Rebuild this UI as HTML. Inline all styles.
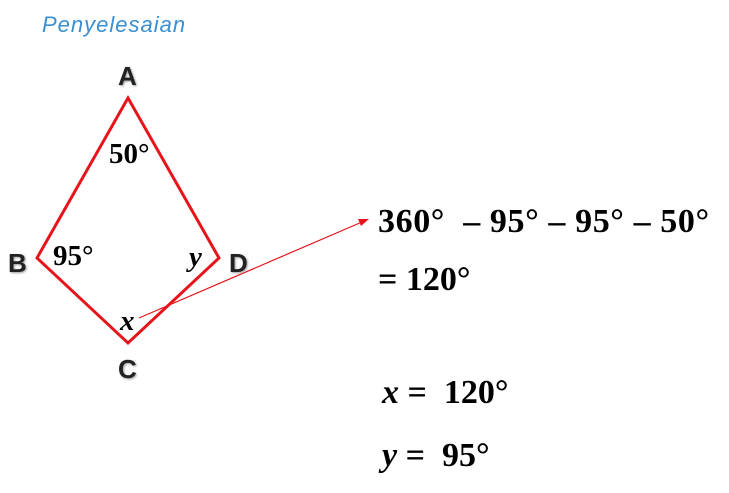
<!DOCTYPE html>
<html><head><style>
body{margin:0;width:729px;height:493px;background:#fff;overflow:hidden;position:relative;font-family:"Liberation Serif",serif}
.t{position:absolute;font-weight:bold;font-size:34px;white-space:nowrap;line-height:1}
.L{position:absolute;font-family:"Liberation Sans",sans-serif;font-weight:bold;font-size:26px;color:#222;text-shadow:1px 1px 2px #999;line-height:1}
</style></head><body>
<div style="position:absolute;left:42px;top:12px;font-family:'Comic Sans MS','Liberation Sans',cursive;font-style:italic;font-size:22px;color:#3a8fd0;letter-spacing:1px">Penyelesaian</div>
<svg width="729" height="493" style="position:absolute;left:0;top:0">
<polygon points="128,98 37,258 128,343 219,258" fill="none" stroke="#e8141c" stroke-width="3"/>
<line x1="139" y1="318" x2="362" y2="222" stroke="#e8141c" stroke-width="1.2"/>
<polygon points="369,219 358,219 361,226" fill="#e8141c"/>
</svg>
<div class="L" style="left:118px;top:63px">A</div>
<div class="L" style="left:8px;top:250px">B</div>
<div class="L" style="left:229px;top:250px">D</div>
<div class="L" style="left:118px;top:356px">C</div>
<div class="t" style="left:109px;top:140px;font-size:29px">50°</div>
<div class="t" style="left:53px;top:242px;font-size:29px">95°</div>
<div class="t" style="left:189px;top:243px;font-size:29px;font-style:italic">y</div>
<div class="t" style="left:120px;top:307px;font-size:29px;font-style:italic">x</div>
<div class="t" style="left:378px;top:205px;letter-spacing:0.6px">360° &nbsp;– 95° – 95° – 50°</div>
<div class="t" style="left:378px;top:263px">= 120°</div>
<div class="t" style="left:382px;top:376px"><i>x</i> = &nbsp;120°</div>
<div class="t" style="left:382px;top:439px"><i>y</i> = &nbsp;95°</div>
</body></html>
